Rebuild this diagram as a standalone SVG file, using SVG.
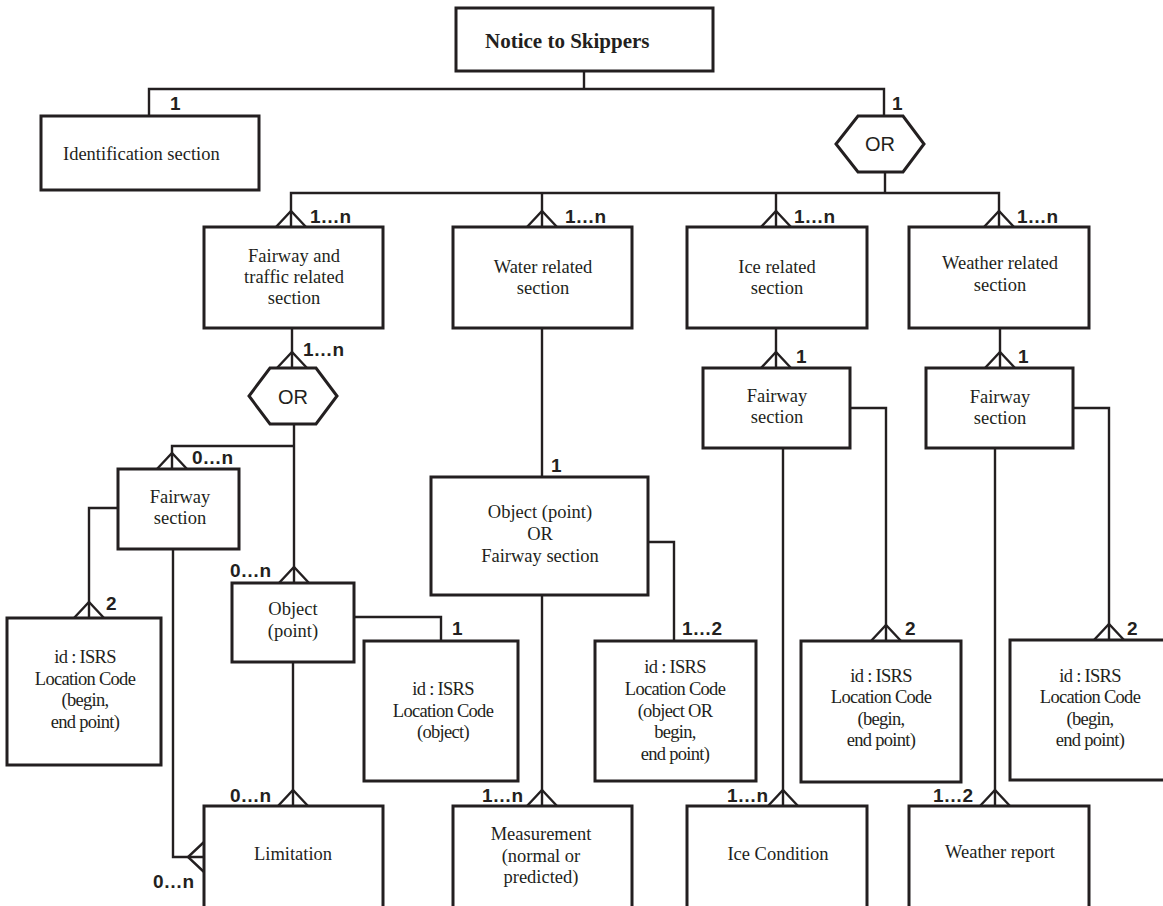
<svg xmlns="http://www.w3.org/2000/svg" xmlns:xlink="http://www.w3.org/1999/xlink" width="1163" height="906" viewBox="0 0 1163 906">
<style>
.box{fill:#fff;stroke:#231f20;stroke-width:3}
.conn{fill:none;stroke:#231f20;stroke-width:2.4}
.lbl{font-family:"Liberation Sans",Arial,sans-serif;font-weight:bold;font-size:19px;fill:#231f20}
.t{font-family:"Liberation Serif","Times New Roman",serif;font-size:18.5px;fill:#231f20;text-anchor:middle}
.id{letter-spacing:-0.7px}
.or{font-family:"Liberation Sans",Arial,sans-serif;font-size:20px;fill:#231f20;text-anchor:middle}
</style>
<defs>
<path id="crow" d="M-15,0 L0,-16 L15,0" fill="none" stroke="#231f20" stroke-width="2.4"/>
</defs>
<rect width="1163" height="906" fill="#fff"/>

<g id="connectors">
<path class="conn" d="M584,71 V89"/>
<path class="conn" d="M149,116 V89 H884 V116"/>
<path class="conn" d="M885,172 V193"/>
<path class="conn" d="M291,227 V193 H999 V227"/>
<path class="conn" d="M542,193 V227"/>
<path class="conn" d="M776,193 V227"/>
<use xlink:href="#crow" x="291" y="227"/>
<use xlink:href="#crow" x="542" y="227"/>
<use xlink:href="#crow" x="776" y="227"/>
<use xlink:href="#crow" x="999" y="227"/>
<path class="conn" d="M292,328 V368"/>
<use xlink:href="#crow" x="292" y="368"/>
<path class="conn" d="M294,424 V583"/>
<path class="conn" d="M294,446 H172 V469"/>
<use xlink:href="#crow" x="172" y="469"/>
<use xlink:href="#crow" x="294" y="583"/>
<path class="conn" d="M118,508 H89 V618"/>
<use xlink:href="#crow" x="89" y="618"/>
<path class="conn" d="M173,549 V857 H204"/>
<use xlink:href="#crow" transform="translate(204,857) rotate(-90)"/>
<path class="conn" d="M354,617 H441 V641"/>
<path class="conn" d="M293,662 V806"/>
<use xlink:href="#crow" x="293" y="806"/>
<path class="conn" d="M542,328 V477"/>
<path class="conn" d="M648,542 H674 V641"/>
<path class="conn" d="M542,595 V806"/>
<use xlink:href="#crow" x="542" y="806"/>
<path class="conn" d="M776,328 V368"/>
<use xlink:href="#crow" x="776" y="368"/>
<path class="conn" d="M850,408 H886 V641"/>
<use xlink:href="#crow" x="886" y="641"/>
<path class="conn" d="M783,448 V806"/>
<use xlink:href="#crow" x="783" y="806"/>
<path class="conn" d="M1000,328 V368"/>
<use xlink:href="#crow" x="1000" y="368"/>
<path class="conn" d="M1073,408 H1109 V640"/>
<use xlink:href="#crow" x="1109" y="640"/>
<path class="conn" d="M995,448 V806"/>
<use xlink:href="#crow" x="995" y="806"/>
</g>

<g id="labels">
<text class="lbl" x="170" y="110">1</text>
<text class="lbl" x="892" y="110">1</text>
<text class="lbl" x="310" y="223">1…n</text>
<text class="lbl" x="565" y="223">1…n</text>
<text class="lbl" x="794" y="223">1…n</text>
<text class="lbl" x="1017" y="223">1…n</text>
<text class="lbl" x="303" y="356">1…n</text>
<text class="lbl" x="192" y="464">0…n</text>
<text class="lbl" x="230" y="577">0…n</text>
<text class="lbl" x="106" y="610">2</text>
<text class="lbl" x="452" y="635">1</text>
<text class="lbl" x="230" y="802">0…n</text>
<text class="lbl" x="153" y="888">0…n</text>
<text class="lbl" x="551" y="472">1</text>
<text class="lbl" x="682" y="635">1…2</text>
<text class="lbl" x="482" y="802">1…n</text>
<text class="lbl" x="796" y="363">1</text>
<text class="lbl" x="905" y="635">2</text>
<text class="lbl" x="727" y="802">1…n</text>
<text class="lbl" x="1018" y="363">1</text>
<text class="lbl" x="1127" y="635">2</text>
<text class="lbl" x="933" y="802">1…2</text>
</g>

<g id="notice">
<rect class="box" x="456" y="8" width="257" height="63"/>
<text x="485" y="48" font-family="Liberation Serif,Times New Roman,serif" font-weight="bold" font-size="21" fill="#231f20">Notice to Skippers</text>
</g>
<g id="identification">
<rect class="box" x="41" y="116" width="218" height="74"/>
<text class="t" x="63" y="160" text-anchor="start" style="text-anchor:start">Identification section</text>
</g>
<g id="or1">
<polygon class="box" points="858,116 903,116 924,144 903,172 858,172 836,144"/>
<text class="or" x="880" y="151">OR</text>
</g>
<g id="fairway-traffic">
<rect class="box" x="204" y="227" width="179" height="101"/>
<text class="t" x="294" y="262">Fairway and</text>
<text class="t" x="294" y="283">traffic related</text>
<text class="t" x="294" y="304">section</text>
</g>
<g id="water">
<rect class="box" x="453" y="227" width="179" height="101"/>
<text class="t" x="543" y="273">Water related</text>
<text class="t" x="543" y="294">section</text>
</g>
<g id="ice">
<rect class="box" x="687" y="227" width="180" height="101"/>
<text class="t" x="777" y="273">Ice related</text>
<text class="t" x="777" y="294">section</text>
</g>
<g id="weather">
<rect class="box" x="909" y="227" width="180" height="101"/>
<text class="t" x="1000" y="269">Weather related</text>
<text class="t" x="1000" y="291">section</text>
</g>
<g id="or2">
<polygon class="box" points="270,368 316,368 337,396 316,424 270,424 249,396"/>
<text class="or" x="293" y="404">OR</text>
</g>
<g id="fairway-left">
<rect class="box" x="118" y="469" width="121" height="80"/>
<text class="t" x="180" y="503">Fairway</text>
<text class="t" x="180" y="524">section</text>
</g>
<g id="id-left">
<rect class="box" x="7" y="618" width="154" height="147"/>
<text class="t id" x="85" y="663">id : ISRS</text>
<text class="t id" x="85" y="685">Location Code</text>
<text class="t id" x="85" y="706">(begin,</text>
<text class="t id" x="85" y="728">end point)</text>
</g>
<g id="object">
<rect class="box" x="232" y="583" width="122" height="79"/>
<text class="t" x="293" y="615">Object</text>
<text class="t" x="293" y="637">(point)</text>
</g>
<g id="id-object">
<rect class="box" x="364" y="641" width="154" height="140"/>
<text class="t id" x="443" y="695">id : ISRS</text>
<text class="t id" x="443" y="717">Location Code</text>
<text class="t id" x="443" y="738">(object)</text>
</g>
<g id="limitation">
<rect class="box" x="204" y="806" width="179" height="120"/>
<text class="t" x="293" y="860">Limitation</text>
</g>
<g id="object-or-fairway">
<rect class="box" x="431" y="477" width="217" height="118"/>
<text class="t" x="540" y="518">Object (point)</text>
<text class="t" x="540" y="540">OR</text>
<text class="t" x="540" y="562">Fairway section</text>
</g>
<g id="measurement">
<rect class="box" x="453" y="806" width="179" height="120"/>
<text class="t" x="541" y="840">Measurement</text>
<text class="t" x="541" y="862">(normal or</text>
<text class="t" x="541" y="883">predicted)</text>
</g>
<g id="id-objor">
<rect class="box" x="595" y="641" width="161" height="140"/>
<text class="t id" x="675" y="673">id : ISRS</text>
<text class="t id" x="675" y="695">Location Code</text>
<text class="t id" x="675" y="717">(object OR</text>
<text class="t id" x="675" y="738">begin,</text>
<text class="t id" x="675" y="760">end point)</text>
</g>
<g id="fairway-ice">
<rect class="box" x="703" y="368" width="147" height="80"/>
<text class="t" x="777" y="402">Fairway</text>
<text class="t" x="777" y="423">section</text>
</g>
<g id="id-ice">
<rect class="box" x="801" y="641" width="160" height="141"/>
<text class="t id" x="881" y="682">id : ISRS</text>
<text class="t id" x="881" y="703">Location Code</text>
<text class="t id" x="881" y="725">(begin,</text>
<text class="t id" x="881" y="746">end point)</text>
</g>
<g id="ice-condition">
<rect class="box" x="687" y="806" width="180" height="120"/>
<text class="t" x="778" y="860">Ice Condition</text>
</g>
<g id="fairway-weather">
<rect class="box" x="926" y="368" width="147" height="80"/>
<text class="t" x="1000" y="403">Fairway</text>
<text class="t" x="1000" y="424">section</text>
</g>
<g id="id-weather">
<rect class="box" x="1010" y="640" width="170" height="140"/>
<text class="t id" x="1090" y="682">id : ISRS</text>
<text class="t id" x="1090" y="703">Location Code</text>
<text class="t id" x="1090" y="725">(begin,</text>
<text class="t id" x="1090" y="746">end point)</text>
</g>
<g id="weather-report">
<rect class="box" x="909" y="806" width="180" height="120"/>
<text class="t" x="1000" y="858">Weather report</text>
</g>
</svg>
